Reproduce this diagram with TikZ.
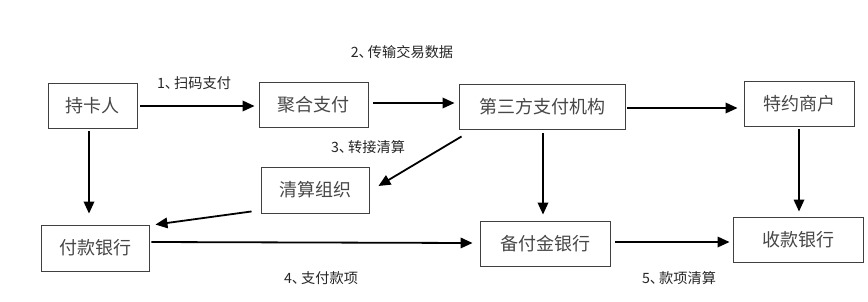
\documentclass[tikz,border=0pt]{standalone}
\usepackage{fontspec}
\newfontfamily\cjk{Noto Sans CJK SC}
\usetikzlibrary{arrows.meta,calc}
\begin{document}
\begin{tikzpicture}[x=1pt,y=-1pt,
  boxnode/.style={draw=black!75,line width=0.9pt,inner sep=0pt,text=black!72,font=\cjk\fontsize{18}{20}\selectfont},
  lab/.style={inner sep=0pt,text=black!85,font=\cjk\fontsize{14.2}{16}\selectfont},
  flow/.style={line width=1.8pt,-{Triangle[length=12pt,width=10.5pt]}}]
\useasboundingbox[fill=white] (0,0) rectangle (868,301);
\node[boxnode,minimum width=89pt,minimum height=45pt] (card) at (92.5,105.5) {持卡人};
\node[boxnode,minimum width=109pt,minimum height=45pt] (agg) at (313.5,104.5) {聚合支付};
\node[boxnode,minimum width=166pt,minimum height=45pt] (third) at (542,106.5) {第三方支付机构};
\node[boxnode,minimum width=110pt,minimum height=45pt] (merch) at (799,103.5) {特约商户};
\node[boxnode,minimum width=108pt,minimum height=46pt] (clear) at (315,190) {清算组织};
\node[boxnode,minimum width=108pt,minimum height=46pt] (pay) at (95,248) {付款银行};
\node[boxnode,minimum width=130pt,minimum height=45pt] (res) at (545,243.5) {备付金银行};
\node[boxnode,minimum width=130pt,minimum height=45pt] (recv) at (798,239.5) {收款银行};
\node[lab] (l1) at (194,83) {1、\kern-0.35em扫码支付};
\node[lab] (l2) at (402,52) {2、\kern-0.35em传输交易数据};
\node[lab] (l3) at (368,147) {3、\kern-0.35em转接清算};
\node[lab] (l4) at (321,278) {4、\kern-0.35em支付款项};
\node[lab] (l5) at (679,278) {5、\kern-0.35em款项清算};
\draw[flow] ([xshift=3pt,yshift=-0.5pt]card.east) -- ([xshift=-4pt,yshift=-1.5pt]agg.west);
\draw[flow] ([xshift=5pt,yshift=1.5pt]agg.east) -- ([xshift=-4pt,yshift=3.5pt]third.west);
\draw[flow] ([xshift=2pt,yshift=-1.5pt]third.east) -- ([xshift=-6pt,yshift=-4.5pt]merch.west);
\draw[flow] ([shift={(3pt,-7pt)}]third.south west) -- ([shift={(9pt,4pt)}]clear.east);
\draw[flow] ([shift={(-9pt,2pt)}]clear.south west) -- ([shift={(6pt,0pt)}]pay.north east);
\draw[flow] ([xshift=-3.5pt,yshift=-3pt]card.south) -- ([xshift=-6pt,yshift=11pt]pay.north);
\draw[flow] ([xshift=2pt,yshift=6pt]pay.east) -- ([xshift=-7pt,yshift=0.5pt]res.west);
\draw[flow] ([xshift=1pt,yshift=-4pt]third.south) -- ([xshift=-2pt,yshift=6pt]res.north);
\draw[flow] ([xshift=5pt,yshift=1.5pt]res.east) -- ([xshift=-3pt,yshift=-2.5pt]recv.west);
\draw[flow] ([xshift=0pt,yshift=-3pt]merch.south) -- ([xshift=1pt,yshift=5pt]recv.north);
\end{tikzpicture}
\end{document}
